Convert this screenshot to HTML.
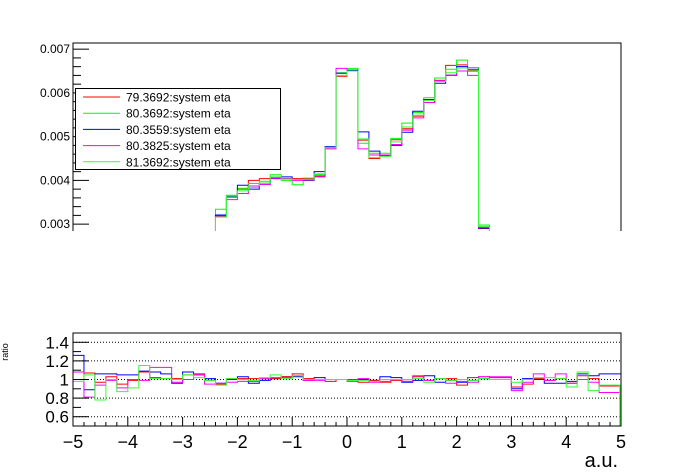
<!DOCTYPE html>
<html><head><meta charset="utf-8"><style>
html,body{margin:0;padding:0;background:#fff;}
svg{display:block;font-family:"Liberation Sans",Arial,sans-serif;}
</style></head><body>
<svg id="c" width="698" height="476" viewBox="0 0 698 476" xmlns="http://www.w3.org/2000/svg">
<defs>
<clipPath id="topClip"><rect x="73" y="43" width="548" height="188"/></clipPath>
<clipPath id="botClip"><rect x="73" y="333" width="548" height="93"/></clipPath>
</defs>
<g id="topPanel"></g>
<g id="botPanel"></g>
<g id="legendG"></g>
</svg>
<script>
const seriesNames = ["79.3692:system eta","80.3692:system eta","80.3559:system eta","80.3825:system eta","81.3692:system eta"];
const seriesColors = ["#ff0000","#00ff00","#0000ff","#ff00ff","#33ff33"];
const xMin = -5, xMax = 5, nBins = 50;
const topTicks = [0.003,0.004,0.005,0.006,0.007];
const topTickLabels = ["0.003","0.004","0.005","0.006","0.007"];
const ratioTicks = [0.6,0.8,1,1.2,1.4];
const ratioTickLabels = ["0.6","0.8","1","1.2","1.4"];
const xTicks = [-5,-4,-3,-2,-1,0,1,2,3,4,5];
const xTickLabels = ["\u22125","\u22124","\u22123","\u22122","\u22121","0","1","2","3","4","5"];
const lowPre = [0.0015,0.0016,0.0017,0.0018,0.0019,0.0020,0.0021,0.0022,0.0023,0.0024,0.0025,0.0026,0.0027];
const lowPost = [0.0026,0.0025,0.0024,0.0023,0.0022,0.0021,0.0020,0.0019,0.0018,0.0017,0.0016,0.0015];
const redVis = [0.00319,0.00365,0.00380,0.00400,0.00404,0.00407,0.00404,0.00404,0.00405,0.00410,0.00475,0.00638,0.00650,0.00492,0.00450,0.00456,0.00493,0.00518,0.00547,0.00578,0.00628,0.00663,0.00664,0.00650,0.00290];
const greenVis = [0.00334,0.00366,0.00382,0.00393,0.00398,0.00413,0.00400,0.00390,0.00400,0.00413,0.00477,0.00646,0.00656,0.00485,0.00462,0.00462,0.00496,0.00531,0.00555,0.00589,0.00634,0.00654,0.00675,0.00658,0.00298];
const blueVis = [0.00321,0.00362,0.00389,0.00380,0.00391,0.00404,0.00408,0.00401,0.00400,0.00420,0.00477,0.00645,0.00652,0.00511,0.00467,0.00456,0.00480,0.00510,0.00558,0.00585,0.00622,0.00640,0.00660,0.00654,0.00291];
const magentaVis = [0.00317,0.00356,0.00370,0.00385,0.00391,0.00405,0.00404,0.00400,0.00401,0.00408,0.00472,0.00656,0.00650,0.00472,0.00458,0.00458,0.00482,0.00515,0.00543,0.00578,0.00629,0.00641,0.00650,0.00640,0.00293];
const green2Vis = [0.00316,0.00364,0.00376,0.00388,0.00394,0.00408,0.00403,0.00402,0.00403,0.00415,0.00475,0.00640,0.00650,0.00495,0.00452,0.00455,0.00488,0.00522,0.00549,0.00583,0.00626,0.00646,0.00657,0.00652,0.00295];
const ratioBlue = [1.26,0.89,1.06,1.06,1.05,1.05,1.09,1.08,1.06,0.96,1.08,1.05,1.01,0.96,1.00,1.03,0.96,0.99,1.01,1.03,1.03,0.99,1.02,1.00,1.00,1.00,1.00,0.99,1.03,1.02,0.97,0.99,1.04,0.97,0.99,0.97,0.99,1.01,1.00,1.00,0.90,1.01,1.00,0.96,0.96,0.98,1.06,1.04,1.06,1.06];
const ratioRed = [1.08,1.07,0.97,1.03,0.95,0.99,1.08,1.02,1.01,1.01,1.05,1.06,0.99,0.95,1.01,1.01,1.01,1.01,1.01,1.03,1.06,1.01,1.00,0.98,1.00,1.00,0.97,0.99,0.97,0.99,0.98,1.03,0.99,1.01,1.01,0.94,1.02,1.03,1.02,1.02,0.92,0.95,1.01,0.99,1.01,0.96,1.04,1.01,0.93,0.93];
const ratioMagenta = [1.08,0.81,0.94,0.99,0.91,1.00,0.99,1.13,1.13,0.97,1.00,1.05,0.95,0.96,0.97,0.98,0.98,1.01,1.02,1.02,1.04,0.99,0.99,1.00,1.00,0.98,1.01,0.97,0.98,1.00,0.98,1.04,0.99,1.01,0.96,0.98,0.97,1.03,1.03,1.03,0.88,0.97,1.06,0.99,1.06,0.96,1.00,0.97,0.86,0.86];
const ratioGreen = [0.98,1.05,0.78,1.00,0.87,0.91,1.15,1.01,1.01,1.00,1.05,1.02,0.99,0.94,1.01,1.00,0.99,1.02,1.05,1.01,1.04,1.00,1.00,1.00,1.00,0.99,0.99,0.98,1.00,1.00,1.00,1.01,0.97,1.01,0.99,1.00,0.99,1.01,1.00,1.00,0.97,1.00,1.02,1.02,1.01,0.92,1.08,0.88,0.94,0.94];

const NS="http://www.w3.org/2000/svg";
function mk(tag, attrs, parent){const e=document.createElementNS(NS,tag);for(const k in attrs)e.setAttribute(k,attrs[k]);parent.appendChild(e);return e;}
const X0=73,X1=621;
function xs(v){return X0+(v-xMin)/(xMax-xMin)*(X1-X0);}
const TY0=43,TY1=231,tMin=0.002843,tMax=0.007141;
function ty(v){return TY1-(v-tMin)/(tMax-tMin)*(TY1-TY0);}
const BY0=333,BY1=426,bMin=0.5,bMax=1.5;
function by(v){return BY1-(v-bMin)/(bMax-bMin)*(BY1-BY0);}
const bw=(xMax-xMin)/nBins;
function stepPath(vals, yf){
  let d="";
  for(let i=0;i<vals.length;i++){
    const xa=xs(xMin+i*bw), xb=xs(xMin+(i+1)*bw), y=yf(vals[i]);
    d+=(i===0?"M":"L")+xa.toFixed(2)+","+y.toFixed(2)+"L"+xb.toFixed(2)+","+y.toFixed(2);
  }
  return d;
}
const topG=document.getElementById('topPanel'), botG=document.getElementById('botPanel'), legG=document.getElementById('legendG');

const topSeries=[redVis,greenVis,blueVis,magentaVis,green2Vis].map(v=>lowPre.concat(v,lowPost));
const tg=mk('g',{'clip-path':'url(#topClip)'},topG);
topSeries.forEach((s,k)=>{
  const p=mk('path',{d:stepPath(s,ty),fill:'none',stroke:seriesColors[k],'stroke-width':1},tg);
  
  
});
const tf=mk('path',{d:`M${X0},${TY1}L${X0},${TY0}L${X1},${TY0}L${X1},${TY1}`,fill:'none',stroke:'#000','stroke-width':1},topG);


for(let i=0;i<=22;i++){
  const v=0.0028+i*0.0002;
  const y=ty(v); if(y<TY0||y>TY1) continue;
  const major=(i%5)===1;
  mk('line',{x1:X0,x2:X0+(major?16:8),y1:y,y2:y,stroke:'#000','stroke-width':1},topG);
}
topTicks.forEach((v,i)=>{
  const t=mk('text',{x:X0-3,y:ty(v)+4,'text-anchor':'end','font-size':12},topG);
  t.textContent=topTickLabels[i];
  
  
});

ratioTicks.forEach(v=>{
  const l=mk('line',{x1:X0,x2:X1,y1:by(v),y2:by(v),stroke:'#000','stroke-width':1,'stroke-dasharray':'1,2'},botG);
  
  
});
const bg=mk('g',{'clip-path':'url(#botClip)'},botG);
const ratioSeries=[ratioBlue,ratioRed,ratioMagenta,ratioGreen];
const ratioColors=["#0000ff","#ff0000","#ff00ff","#33ff33"];
ratioSeries.forEach((s,k)=>{
  const p=mk('path',{d:stepPath(s,by),fill:'none',stroke:ratioColors[k],'stroke-width':1},bg);
  
  
});
mk('line',{x1:X1-1,x2:X1-1,y1:by(0.94),y2:BY1,stroke:'#33ff33','stroke-width':1.5},bg);
const bf=mk('rect',{x:X0,y:BY0,width:X1-X0,height:BY1-BY0,fill:'none',stroke:'#000','stroke-width':1},botG);


for(let i=0;i<=10;i++){
  const v=0.5+i*0.1;
  const major=(i%2)===1;
  mk('line',{x1:X0,x2:X0+(major?16:8),y1:by(v),y2:by(v),stroke:'#000','stroke-width':1},botG);
}
ratioTicks.forEach((v,i)=>{
  const t=mk('text',{x:X0-4,y:by(v)+6,'text-anchor':'end','font-size':17},botG);
  t.textContent=ratioTickLabels[i];
  
  
});
for(let i=0;i<=50;i++){
  const v=-5+i*0.2;
  const major=(i%5)===0;
  mk('line',{x1:xs(v),x2:xs(v),y1:BY1,y2:BY1-(major?9:4),stroke:'#000','stroke-width':1},botG);
}
xTicks.forEach((v,i)=>{
  const t=mk('text',{x:xs(v),y:448,'text-anchor':'middle','font-size':18},botG);
  t.textContent=xTickLabels[i];
  
  
});
const xt=mk('text',{x:618,y:467,'text-anchor':'end','font-size':20},botG);
xt.textContent="a.u.";


const yt=mk('text',{x:8,y:352,'text-anchor':'middle','font-size':9,transform:'rotate(-90 8 352)'},botG);
yt.textContent="ratio";



const lb=mk('rect',{x:75.5,y:88.5,width:205,height:81,fill:'#fff',stroke:'#000','stroke-width':1},legG);


seriesNames.forEach((n,k)=>{
  const y=97+k*16.2;
  const g=mk('g',{},legG);
  
  
  mk('line',{x1:83,x2:120,y1:y,y2:y,stroke:seriesColors[k],'stroke-width':1},g);
  const t=mk('text',{x:126,y:y+4.5,'font-size':12},g);
  t.textContent=n;
});
</script>
</body></html>
